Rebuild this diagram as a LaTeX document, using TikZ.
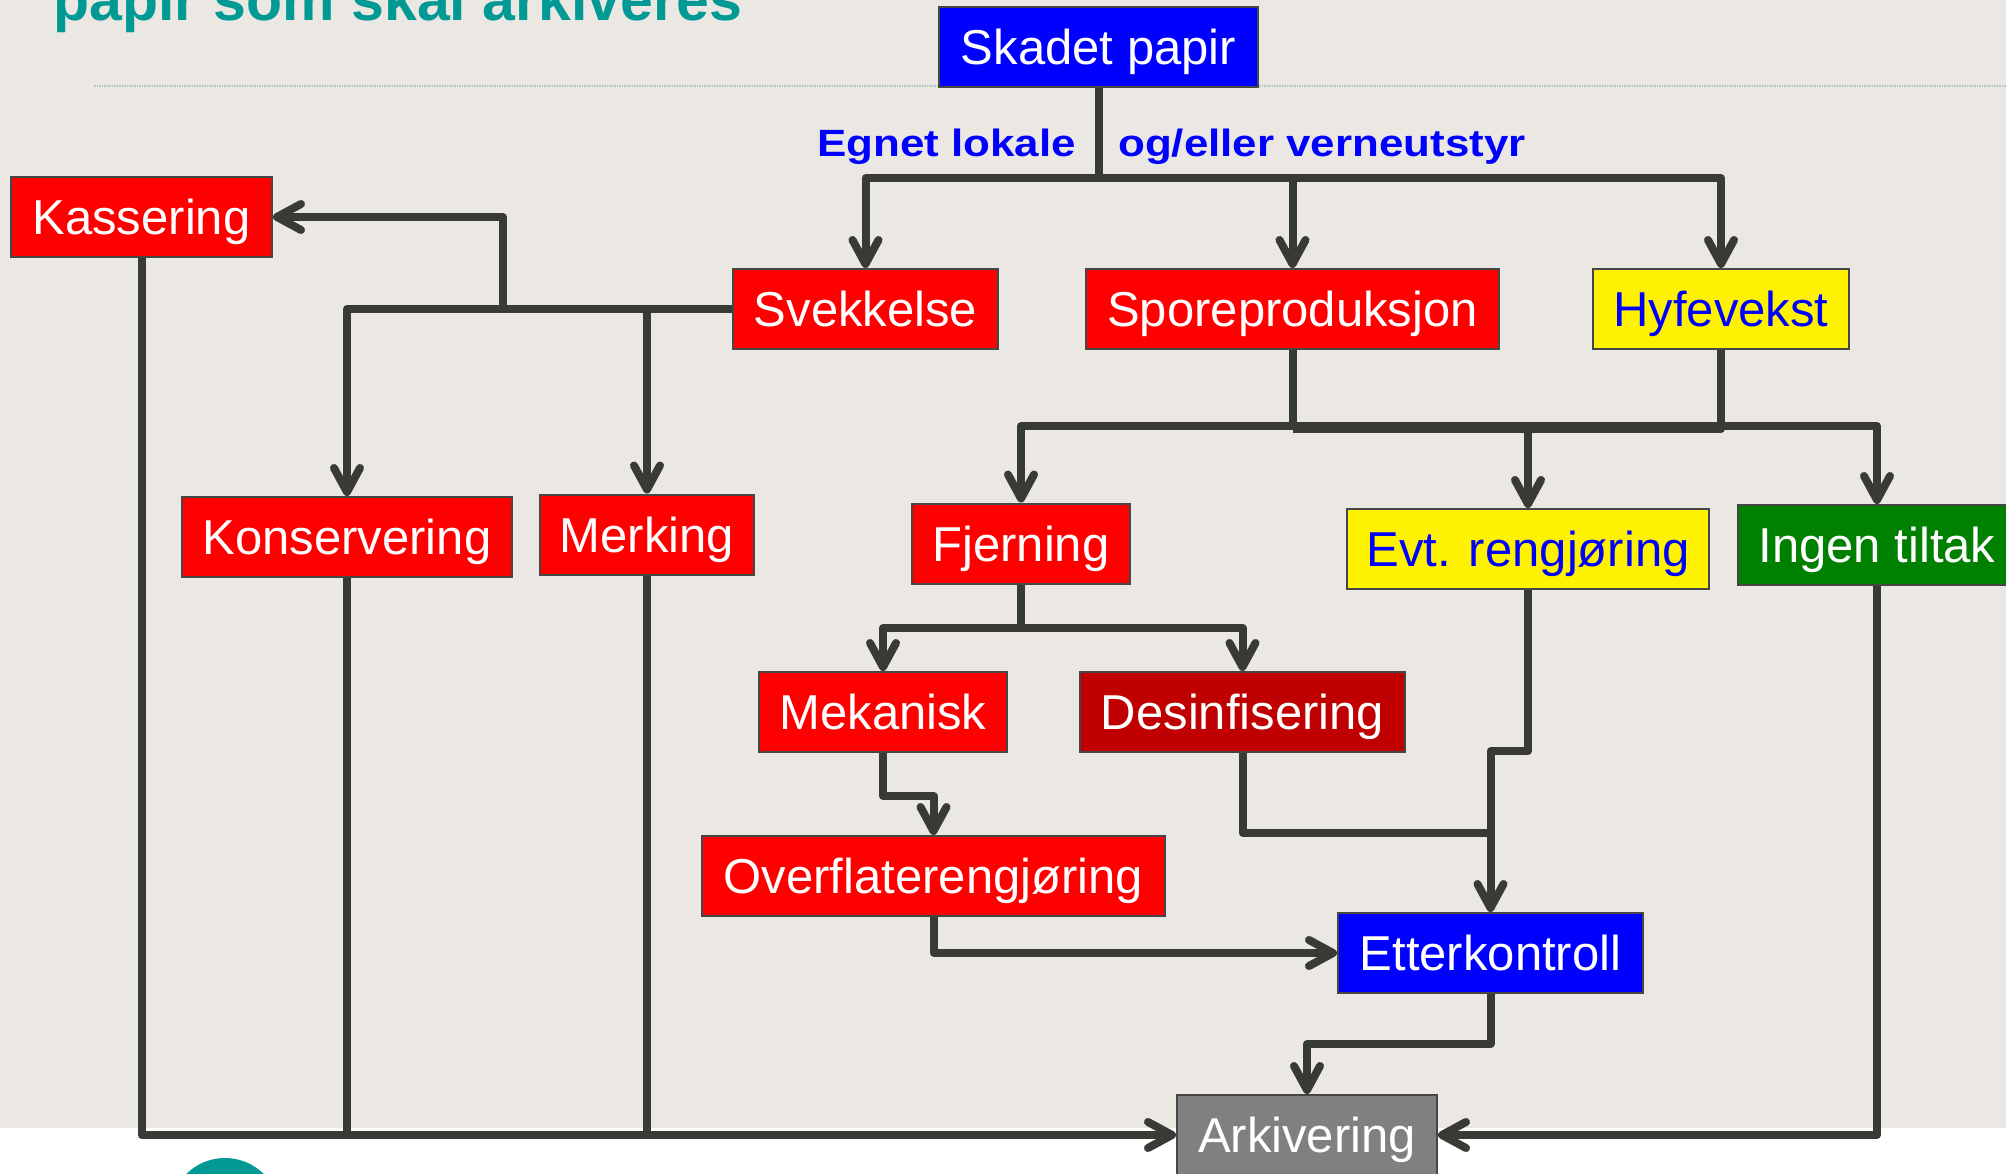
\documentclass[tikz,border=0pt]{standalone}
\usepackage{fontspec}
\setmainfont{Liberation Sans}
\usepackage{graphicx}
\usetikzlibrary{arrows.meta}
\definecolor{bgbeige}{RGB}{235,232,227}
\definecolor{linecol}{RGB}{56,58,52}
\definecolor{boxborder}{RGB}{70,70,70}
\definecolor{titleteal}{RGB}{0,153,148}
\definecolor{dotcol}{RGB}{170,200,196}
\definecolor{darkredbox}{RGB}{192,0,0}
\definecolor{greenbox}{RGB}{0,128,0}
\definecolor{graybox}{RGB}{128,128,128}
\begin{document}
\begin{tikzpicture}[x=1pt,y=-1pt,
  L/.style={draw=linecol, line width=8pt, line join=round},
  ar/.style={-{Straight Barb[length=24pt,width=26pt,round]}},
  ab/.style={{Straight Barb[length=24pt,width=26pt,round]}-{Straight Barb[length=24pt,width=26pt,round]}},
  box/.style={draw=boxborder, line width=2pt, minimum height=80pt, inner sep=0pt,
    text height=35pt, text depth=0pt, font=\fontsize{49}{52}\selectfont, text=white},
  lbl/.style={inner sep=0pt, text=blue, font=\bfseries\fontsize{38}{40}\selectfont}
]
\clip (0,0) rectangle (2006,1174);
\fill[white] (0,0) rectangle (2006,1174);
\fill[bgbeige] (0,0) rectangle (2006,1128);
\fill[titleteal] (225,1213) circle (55);
\draw[dotcol, densely dotted, line width=1.5pt] (94,86) -- (2006,86);
\node[anchor=base west, inner sep=0pt, text=titleteal, font=\bfseries\fontsize{59}{61}\selectfont] (title) at (53,21) {papir som skal arkiveres};

% nodes
\node[box, fill=blue, minimum width=319pt] (skadet) at (1098.5,46.7) {Skadet papir};
\node[box, fill=red, minimum width=261pt] (kass) at (141.5,217) {Kassering};
\node[box, fill=red, minimum width=265pt] (svek) at (865.5,309) {Svekkelse};
\node[box, fill=red, minimum width=413pt] (spore) at (1292.5,309) {Sporeproduksjon};
\node[box, fill=yellow, text=blue, minimum width=256pt] (hyfe) at (1721,309) {Hyfevekst};
\node[box, fill=red, minimum width=330pt] (kons) at (347,537) {Konservering};
\node[box, fill=red, minimum width=214pt] (merk) at (647,534.5) {Merking};
\node[box, fill=red, minimum width=218pt] (fjern) at (1021,543.5) {Fjerning};
\node[box, fill=yellow, text=blue, minimum width=362pt] (evt) at (1528,549) {Evt. rengjøring};
\node[box, fill=greenbox, minimum width=278pt] (ingen) at (1877,545) {Ingen tiltak};
\node[box, fill=red, minimum width=248pt] (mek) at (883,712) {Mekanisk};
\node[box, fill=darkredbox, minimum width=325pt] (desinf) at (1242.5,712) {Desinfisering};
\node[box, fill=red, minimum width=463pt] (over) at (933.5,876) {Overflaterengjøring};
\node[box, fill=blue, minimum width=305pt] (etter) at (1490.5,953) {Etterkontroll};
\node[box, fill=graybox, minimum width=260pt] (ark) at (1307,1135) {Arkivering};

% labels
\node[lbl, anchor=base east] (egnet) at (1076,157) {\scalebox{1.155}[1]{Egnet lokale}};
\node[lbl, anchor=base west] (verne) at (1118,157) {\scalebox{1.155}[1]{og/eller verneutstyr}};

% bus coordinates
\coordinate (bus1) at (0,178);
\coordinate (bus2) at (0,426);
\coordinate (bus2b) at (0,429);
\coordinate (bus3) at (0,628);
\coordinate (c796) at (0,796);
\coordinate (c833) at (0,833);
\coordinate (c751) at (0,751);
\coordinate (c1044) at (0,1044);
\coordinate (kj) at (503,309);

% connectors
\draw[L] (skadet.south) -- (skadet |- bus1);
\draw[L,ab] (svek.north) -- (svek |- bus1) -- (hyfe |- bus1) -- (hyfe.north);
\draw[L,ar] (spore |- bus1) -- (spore.north);

\draw[L,ar] (svek.west) -- (kons |- svek.west) -- (kons.north);
\draw[L,ar] (merk |- svek.west) -- (merk.north);
\draw[L,ar] (kj) |- (kass.east);

\draw[L] (spore.south) -- (spore |- bus2);
\draw[L] (hyfe.south) -- (hyfe |- bus2b) -- (spore |- bus2b);
\draw[L,ab] (fjern.north) -- (fjern |- bus2) -- (ingen |- bus2) -- (ingen.north);
\draw[L,ar] (evt |- bus2) -- (evt.north);

\draw[L] (fjern.south) -- (fjern |- bus3);
\draw[L,ab] (mek.north) -- (mek |- bus3) -- (desinf |- bus3) -- (desinf.north);

\draw[L,ar] (mek.south) -- (mek |- c796) -- (over |- c796) -- (over.north);
\draw[L] (desinf.south) -- (desinf |- c833) -- (etter |- c833);
\draw[L,ar] (evt.south) -- (evt |- c751) -- (etter |- c751) -- (etter.north);
\draw[L,ar] (over.south) |- (etter.west);
\draw[L,ar] (etter.south) -- (etter |- c1044) -- (ark |- c1044) -- (ark.north);

\draw[L,ar] (kass.south) |- (ark.west);
\draw[L] (kons.south) -- (kons |- ark.west);
\draw[L] (merk.south) -- (merk |- ark.west);
\draw[L,ar] (ingen.south) |- (ark.east);
\end{tikzpicture}
\end{document}
